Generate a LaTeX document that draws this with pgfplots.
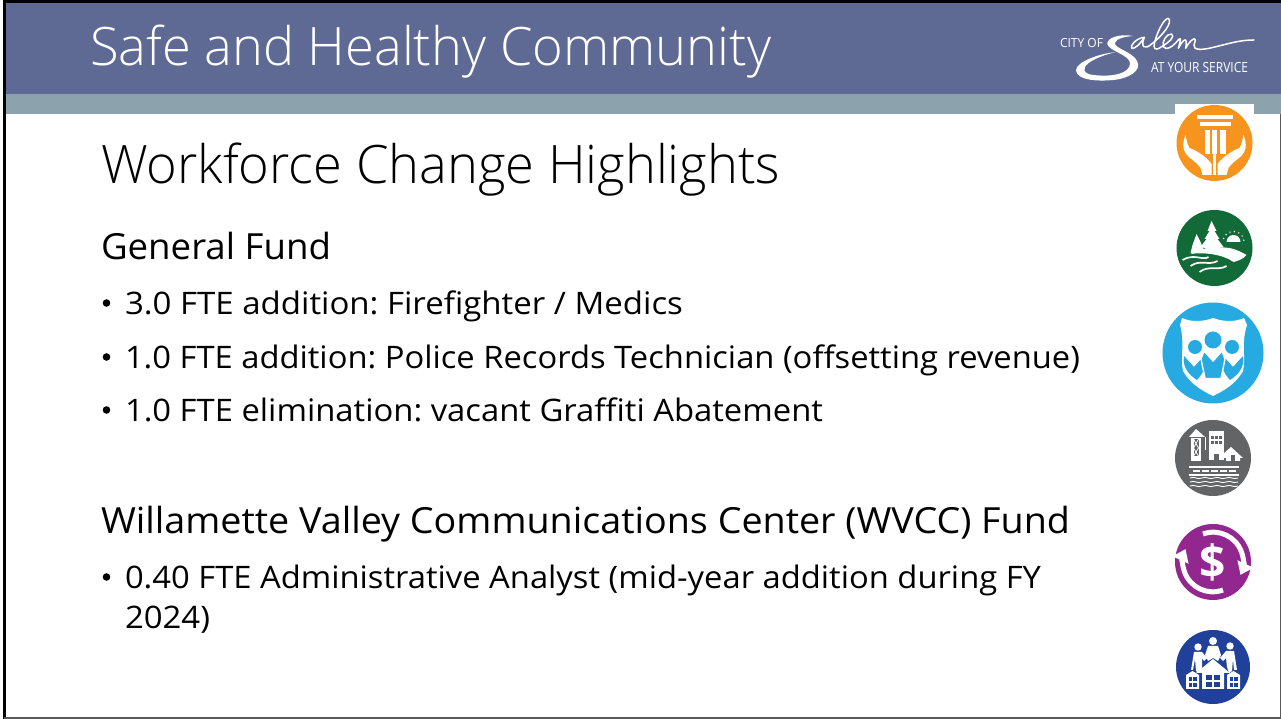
\documentclass[border=0pt]{standalone}
\usepackage{fontspec}
\usepackage{pgfplots}
\pgfplotsset{compat=1.18}
\usetikzlibrary{arrows.meta}
\setmainfont{Open Sans}
\newfontfamily\lightfont{Open Sans Light}
\frenchspacing
\definecolor{hdr}{HTML}{5F6A94}
\definecolor{band}{HTML}{8CA2AC}
\definecolor{orng}{HTML}{F7941E}
\definecolor{grn}{HTML}{116A37}
\definecolor{sky}{HTML}{27AAE1}
\definecolor{gry}{HTML}{636466}
\definecolor{purp}{HTML}{92278F}
\definecolor{navy}{HTML}{21409A}
\newlength\mylen
\newcommand\fitw[3]{\settowidth\mylen{\fontsize{#2}{#2}\selectfont #3}\pgfmathsetmacro\xs{#1/\mylen}\scalebox{\xs}[1]{\fontsize{#2}{#2}\selectfont #3}}
\tikzset{tl/.style={inner sep=0pt,outer sep=0pt,anchor=base west}}
\begin{document}
\begin{tikzpicture}
\useasboundingbox (0pt,0pt) rectangle (1281pt,719pt);
\begin{axis}[at={(0pt,0pt)},anchor=south west,scale only axis,width=1281pt,height=719pt,
  xmin=0,xmax=1281,ymin=0,ymax=719,y dir=reverse,hide axis]
\addplot[fill=hdr,draw=none] coordinates {(4,2)(1281,2)(1281,94)(4,94)} --cycle;
\addplot[fill=band,draw=none] coordinates {(4,94)(1281,94)(1281,114)(4,114)} --cycle;
\addplot[black,line width=2.6pt] coordinates {(4.4,719)(4.4,1.5)(1281,1.5)};
\addplot[gray!70!black,line width=1.2pt] coordinates {(4,718)(1280.2,718)(1280.2,114)};
\addplot[fill=white,draw=none] coordinates {(1175,104)(1254,104)(1254,114)(1175,114)} --cycle;
\node[tl,text=white] at (axis cs:90,66) {\lightfont\fitw{681pt}{53}{Safe and Healthy Community}};
\node[tl] at (axis cs:101,184) {\lightfont\fitw{679pt}{53}{Workforce Change Highlights}};
\node[tl] at (axis cs:101,259) {\fitw{230pt}{36}{General Fund}};
\node[tl] at (axis cs:125,314) {\fitw{558pt}{31}{3.0 FTE addition: Firefighter / Medics}};
\node[tl] at (axis cs:125,368) {\fitw{955pt}{31}{1.0 FTE addition: Police Records Technician (offsetting revenue)}};
\node[tl] at (axis cs:125,421) {\fitw{698pt}{31}{1.0 FTE elimination: vacant Graffiti Abatement}};
\node[tl] at (axis cs:101,533) {\fitw{969pt}{36}{Willamette Valley Communications Center (WVCC) Fund}};
\node[tl] at (axis cs:125,588) {\fitw{916pt}{31}{0.40 FTE Administrative Analyst (mid-year addition during FY}};
\node[tl] at (axis cs:125,628) {\fitw{85pt}{31}{2024)}};
\end{axis}
\begin{scope}[yshift=719pt,x=1pt,y=-1pt]
% bullets
\foreach \yy in {303,357,410,577} \fill (106.5,\yy) circle (3.8);
% logo
\node[tl,text=white] at (1060,47.5) {\fitw{43pt}{12.5}{CITY OF}};
\node[tl,text=white] at (1151,73) {\fitw{97pt}{14}{AT YOUR SERVICE}};
\begin{scope}[shift={(1050,20)},x=0.3333pt,y=-0.3333pt]
\fill[white] (250,48) .. controls (205,40) and (170,55) .. (172,72)
  .. controls (175,92) and (240,105) .. (240,130)
  .. controls (240,160) and (190,172) .. (130,165)
  .. controls (100,162) and (95,145) .. (115,130)
  .. controls (130,118) and (160,105) .. (195,97)
  .. controls (150,100) and (80,125) .. (78,150)
  .. controls (78,180) and (140,185) .. (190,180)
  .. controls (240,175) and (275,150) .. (262,125)
  .. controls (250,95) and (190,85) .. (195,68)
  .. controls (200,55) and (225,50) .. (250,48) --cycle;
\draw[white,line width=1.5pt,line cap=round,line join=round]
 (283,52) .. controls (255,55) and (240,80) .. (245,85) .. controls (255,88) and (272,70) .. (283,52)
 .. controls (270,82) and (285,90) .. (305,72)
 .. controls (345,40) and (368,5) .. (355,-5) .. controls (340,-5) and (315,50) .. (312,78) .. controls (312,92) and (325,88) .. (335,80)
 .. controls (360,65) and (375,50) .. (365,42) .. controls (350,40) and (335,65) .. (340,80) .. controls (348,92) and (365,82) .. (378,68)
 .. controls (392,50) and (395,50) .. (385,85) .. controls (395,65) and (415,40) .. (407,85)
 .. controls (418,62) and (445,40) .. (432,75) .. controls (428,92) and (460,90) .. (490,82)
 .. controls (540,70) and (570,60) .. (612,60);
\end{scope}
% orange
\fill[orng] (1214.5,143) circle (38);
\begin{scope}[shift={(1214.5,143)}]
\fill[white] (-18,-28) rectangle (18,-24);
\fill[white] (-15,-21) rectangle (16,-17);
\fill[white] (-10,-13) rectangle (-5,11);
\fill[white] (-2.5,-13) rectangle (2.5,11);
\fill[white] (5,-13) rectangle (11,11);
\foreach \s in {1,-1} {
 \begin{scope}[xscale=\s]
 \fill[white] (-29,-8) .. controls (-28,-3) and (-27,2) .. (-25,5) .. controls (-17,8) and (-8,14) .. (-3,21) -- (-3,32) -- (-12,32) -- (-14,25)
  .. controls (-20,16) and (-29,15) .. (-31,5) .. controls (-32,0) and (-30,-5) .. (-29,-8) --cycle;
 \end{scope}}
\fill[white] (-1.2,11) rectangle (1.2,32);
\end{scope}
% green
\fill[grn] (1214.5,248) circle (38);
\begin{scope}[shift={(1214.5,248)}]
\fill[white] (-3,-27) -- (2,-17) -- (0,-17) -- (5,-9) -- (3,-9) -- (9,-1) -- (-1,1) -- (-5,1) -- (-14,-1) -- (-8,-9) -- (-10,-9) -- (-5,-17) -- (-7,-17) --cycle;
\fill[white] (-18,-14) -- (-14,-6) -- (-11,1) -- (-12,5) -- (-24,5) -- (-22,-3) --cycle;
\fill[white] (-24,6) .. controls (-15,0) and (0,-2) .. (15,0) .. controls (24,2) and (30,6) .. (32,7) .. controls (28,12) and (22,13) .. (19,14) .. controls (8,6) and (-12,4) .. (-24,6) --cycle;
\fill[white] (12,-6) arc (180:360:7 and 7) --cycle;
\foreach \a in {200,225,250,275,300,325,350} \fill[white] ({19+10.5*cos(\a)},{-6+10.5*sin(\a)}) circle (0.8);
\draw[white,line width=1.7pt] (-32,12) .. controls (-20,5) and (-12,13) .. (-6,9);
\draw[white,line width=1.7pt] (-24,18) .. controls (-14,11) and (-6,18) .. (3,13);
\draw[white,line width=1.7pt] (-15,24) .. controls (-6,17) and (4,23) .. (12,18);
\end{scope}
% blue
\fill[sky] (1213,353) circle (50.5);
\begin{scope}[shift={(1213,353)}]
\fill[white] (-31,-35) .. controls (-20,-30) and (-8,-32) .. (0,-35) .. controls (8,-32) and (20,-30) .. (31,-35)
 -- (34,-28) .. controls (28,-10) and (33,5) .. (30,18) .. controls (22,32) and (10,38) .. (0,43) .. controls (-10,38) and (-22,32) .. (-30,18) .. controls (-33,5) and (-28,-10) .. (-33,-28) --cycle;
\fill[sky] (0,-13) circle (8.5);
\fill[sky] (-18,-6) circle (7);
\fill[sky] (19,-6) circle (7);
\fill[sky] (-29,3) -- (-19,14) -- (-11,5) -- (-7,12) .. controls (-9,18) and (-13,24) .. (-16,27) .. controls (-24,22) and (-31,14) .. (-29,3) --cycle;
\fill[sky] (30,3) -- (20,14) -- (12,5) -- (8,12) .. controls (10,18) and (14,24) .. (17,27) .. controls (25,22) and (32,14) .. (30,3) --cycle;
\filldraw[fill=sky,draw=white,line width=1.4pt] (-9,-2) -- (0,8) -- (9,-2) -- (12,6) -- (8,25.5) -- (-8,25.5) -- (-12,6) --cycle;
\end{scope}
% gray
\fill[gry] (1213,458) circle (38);
\begin{scope}[shift={(1213,458)}]
\fill[white] (-22,-20) rectangle (-12,3);
\fill[gry] (-19.5,-19) rectangle (-14.5,-2);
\draw[white,line width=.8pt] (-19.5,-19) -- (-14.5,-10) -- (-19.5,-2) (-14.5,-19) -- (-19.5,-10) -- (-14.5,-2);
\fill[white] (-24,-21) -- (-17,-29) -- (-8,-21) --cycle;
\draw[white,line width=.8pt] (-8,-21) -- (-8,-8);
\fill[white] (-4,-27) rectangle (11,2);
\fill[gry] (1,-4) rectangle (6,3);
\foreach \xx in {-2,2,6} \foreach \yy in {-22,-17} \fill[gry] (\xx,\yy) rectangle +(2.5,3.5);
\fill[white] (10,-4) -- (18,-11) -- (30,0) -- (27,0) -- (27,3) -- (13,3) -- (13,0) -- (8,0) --cycle;
\fill[gry] (18,-3) rectangle (22,3);
\fill[white] (-24,8) rectangle (26,10);
\fill[white] (-24,16) rectangle (26,18);
\foreach \xx in {-20,-11,-2,7,16} \fill[white] (\xx,12) rectangle +(7,2);
\foreach \yy in {20,24,28} \draw[white,line width=.9pt] (-23,\yy) .. controls (-18,\yy-2) and (-16,\yy+2) .. (-11,\yy) .. controls (-6,\yy-2) and (-4,\yy+2) .. (1,\yy) .. controls (6,\yy-2) and (8,\yy+2) .. (13,\yy) .. controls (18,\yy-2) and (20,\yy+2) .. (25,\yy);
\end{scope}
% purple
\fill[purp] (1213,562) circle (38);
\begin{scope}[shift={(1213,562)}]
\draw[white,line width=5pt,-{Triangle[width=17pt,length=12pt]}] (10,28) arc (70:205:30);
\draw[white,line width=5pt,-{Triangle[width=17pt,length=12pt]}] (-10,-28) arc (250:385:30);
\node[text=white,inner sep=0] at (0,0) {\fontsize{46}{46}\selectfont\bfseries\$};
\end{scope}
% navy
\fill[navy] (1213,667) circle (37);
\begin{scope}[shift={(1213,667)}]
\fill[white] (0,-26) circle (4);
\fill[white] (-15,-20) circle (3.7);
\fill[white] (17,-21) circle (3.7);
\fill[white] (-5,-21) -- (5,-21) -- (8,-12) -- (5,-6) -- (0,-9) -- (-5,-6) -- (-8,-12) --cycle;
\fill[white] (-19,-15) -- (-11,-15) -- (-6,-9) -- (-9,-6) -- (-11,-9) -- (-11,0) -- (-12,4) -- (-15,6) -- (-17,4) -- (-18,-8) -- (-20,3) -- (-22,3) --cycle;
\fill[white] (13,-16) -- (21,-16) -- (24,3) -- (21,3) -- (20,-8) -- (19,4) -- (16,6) -- (14,0) -- (13,-9) -- (10,-6) -- (7,-9) --cycle;
\fill[white] (0,-8) -- (17,6) -- (11,6) -- (11,22) -- (-11,22) -- (-11,6) -- (-17,6) --cycle;
\foreach \xx in {-7,1} \foreach \yy in {8,15} \fill[navy] (\xx,\yy) rectangle +(5.5,5.5);
\foreach \cx in {-20.5,20.5} {
 \fill[white] (\cx-6.5,8) -- (\cx,4) -- (\cx+6.5,8) -- (\cx+6.5,22) -- (\cx-6.5,22) --cycle;
 \foreach \xx in {-4,0.7} \foreach \yy in {10,16} \fill[navy] (\cx+\xx,\yy) rectangle +(3.3,3.8);
}
\end{scope}
\end{scope}
\end{tikzpicture}
\end{document}
